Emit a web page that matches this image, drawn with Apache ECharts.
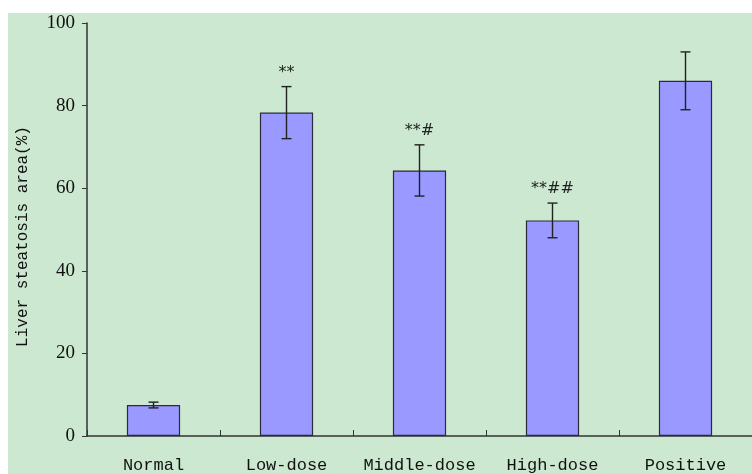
<!DOCTYPE html>
<html>
<head>
<meta charset="utf-8">
<script src="https://cdn.jsdelivr.net/npm/echarts@6/dist/echarts.min.js"></script>
<style>
html,body{margin:0;padding:0;background:#fff;}
#c{width:752px;height:474px;}
</style>
</head>
<body>
<div id="c"></div>
<script>
var categories = ['Normal', 'Low-dose', 'Middle-dose', 'High-dose', 'Positive'];
var means = [7.5, 78.3, 64.3, 52.2, 86.0];
var errors = [0.7, 6.3, 6.2, 4.2, 7.0];
var marks = ['', '**', '**#', '**##', ''];
var yTicks = [0, 20, 40, 60, 80, 100];

var chart = echarts.init(document.getElementById('c'), null, {renderer: 'canvas'});
var errData = means.map(function (m, i) { return [i, m - errors[i], m + errors[i], marks[i]]; });

chart.setOption({
  backgroundColor: '#ffffff',
  animation: false,
  graphic: [{
    type: 'rect', z: -10, silent: true,
    shape: {x: 8, y: 13, width: 760, height: 470},
    style: {fill: '#cce8d0'}
  }],
  grid: {left: 87, top: 23, right: -3, bottom: 37, containLabel: false},
  xAxis: {
    type: 'category',
    data: categories,
    axisLine: {lineStyle: {color: '#333', width: 1.5}},
    axisTick: {show: true, inside: true, length: 6, alignWithLabel: false, lineStyle: {color: '#333'}},
    axisLabel: {fontFamily: 'Liberation Mono', fontSize: 17, color: '#111', margin: 21, interval: 0}
  },
  yAxis: {
    type: 'value', min: 0, max: 100, interval: 20,
    name: 'Liver steatosis area(%)',
    nameLocation: 'middle', nameGap: 56, nameRotate: 90,
    nameTextStyle: {fontFamily: 'Liberation Mono', fontSize: 16, color: '#111', padding: [0, 14, 0, 0]},
    axisLine: {show: true, lineStyle: {color: '#333', width: 1.5}},
    axisTick: {show: true, length: 5, lineStyle: {color: '#333'}},
    splitLine: {show: false},
    axisLabel: {fontFamily: 'Liberation Serif', fontSize: 19, color: '#111', margin: 12,
      formatter: function (v) { return yTicks.indexOf(v) >= 0 ? String(v) : ''; }}
  },
  series: [{
    type: 'bar',
    data: means,
    barWidth: '40%',
    itemStyle: {color: '#9999ff', borderColor: '#2a2a3a', borderWidth: 1.2}
  }, {
    type: 'custom',
    data: errData,
    z: 10,
    renderItem: function (params, api) {
      var x = api.value(0);
      var lo = api.coord([x, api.value(1)]);
      var hi = api.coord([x, api.value(2)]);
      var cap = 5;
      var st = {stroke: '#222', lineWidth: 1.4};
      var children = [
        {type: 'line', shape: {x1: lo[0], y1: lo[1], x2: hi[0], y2: hi[1]}, style: st},
        {type: 'line', shape: {x1: lo[0] - cap, y1: lo[1], x2: lo[0] + cap, y2: lo[1]}, style: st},
        {type: 'line', shape: {x1: hi[0] - cap, y1: hi[1], x2: hi[0] + cap, y2: hi[1]}, style: st}
      ];
      var mk = marks[params.dataIndex];
      if (mk) {
        children.push({type: 'text', style: {text: mk, x: hi[0], y: hi[1] - 6, align: 'center', verticalAlign: 'bottom',
          fontFamily: 'DejaVu Sans', fontSize: 16, fill: '#222'}});
      }
      return {type: 'group', children: children};
    }
  }]
});
</script>
</body>
</html>
